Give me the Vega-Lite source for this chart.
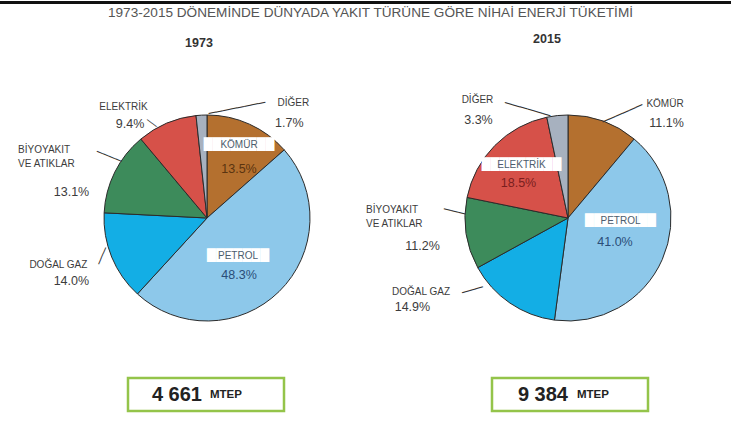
{
  "$schema": "https://vega.github.io/schema/vega-lite/v6.json",
  "padding": {"top": 1, "left": 0, "right": 0, "bottom": 0},
  "background": "white",
  "spacing": 0,
  "config": {"view": {"stroke": null}, "font": "Liberation Sans", "concat": {"spacing": 0}},
  "datasets": {
    "e1973": [
      {"k": "KÖMÜR", "v": 0.135, "o": 1},
      {"k": "PETROL", "v": 0.483, "o": 2},
      {"k": "DOĞAL GAZ", "v": 0.140, "o": 3},
      {"k": "BİYOYAKIT\nVE ATIKLAR", "v": 0.131, "o": 4},
      {"k": "ELEKTRİK", "v": 0.094, "o": 5},
      {"k": "DİĞER", "v": 0.017, "o": 6}
    ],
    "e2015": [
      {"k": "KÖMÜR", "v": 0.111, "o": 1},
      {"k": "PETROL", "v": 0.410, "o": 2},
      {"k": "DOĞAL GAZ", "v": 0.149, "o": 3},
      {"k": "BİYOYAKIT\nVE ATIKLAR", "v": 0.112, "o": 4},
      {"k": "ELEKTRİK", "v": 0.185, "o": 5},
      {"k": "DİĞER", "v": 0.033, "o": 6}
    ]
  },
  "vconcat": [
    {
      "width": 731, "height": 3,
      "data": {"values": [{"a": 0, "b": 1}]},
      "mark": {"type": "rect", "color": "#111111"},
      "encoding": {
        "x": {"field": "a", "type": "quantitative", "scale": {"domain": [0, 1], "nice": false, "zero": false}, "axis": null},
        "x2": {"field": "b"},
        "y": {"field": "a", "type": "quantitative", "scale": {"domain": [0, 1], "nice": false, "zero": false}, "axis": null},
        "y2": {"field": "b"}
      }
    },
    {
      "width": 731, "height": 29,
      "data": {"values": [{"t": "1973-2015 DÖNEMİNDE DÜNYADA YAKIT TÜRÜNE GÖRE NİHAİ ENERJİ TÜKETİMİ"}]},
      "mark": {"type": "text", "fontSize": 13.6, "color": "#555555", "baseline": "middle", "dx": 5, "dy": -5.5},
      "encoding": {"text": {"field": "t"}}
    },
    {
      "hconcat": [
        {
          "width": 414, "height": 316,
          "title": {"text": "1973", "fontSize": 12.5, "fontWeight": "bold", "color": "#333333", "offset": 11, "dx": -8},
          "data": {"name": "e1973"},
          "encoding": {
            "theta": {"field": "v", "type": "quantitative", "stack": true},
            "order": {"field": "o", "type": "quantitative", "sort": "ascending"},
            "detail": {"field": "k"}
          },
          "layer": [
            {
              "mark": {"type": "arc", "radius": 103, "stroke": "#2b2b2b", "strokeWidth": 1},
              "encoding": {"color": {"field": "k", "type": "nominal", "legend": null,
                "scale": {"domain": ["KÖMÜR", "PETROL", "DOĞAL GAZ", "BİYOYAKIT\nVE ATIKLAR", "ELEKTRİK", "DİĞER"],
                          "range": ["#b4702f", "#8dc8ea", "#13aee5", "#3d8b5b", "#d65149", "#a7b1bf"]}}}
            },
            {"mark": {"type": "text", "radius": 125, "dx": 33.1, "dy": 21.7, "angle": -11.3, "fontSize": 12, "font": "DejaVu Sans", "color": "#333333"},
             "encoding": {"text": {"condition": {"test": "datum.o === 6", "value": "────────"}, "value": ""}}},
            {"mark": {"type": "text", "radius": 125, "dx": 7.4, "dy": 20.2, "angle": 37.9, "fontSize": 10, "font": "DejaVu Sans", "color": "#333333"},
             "encoding": {"text": {"condition": {"test": "datum.o === 5", "value": "──"}, "value": ""}}},
            {"mark": {"type": "text", "radius": 125, "dx": 10.8, "dy": -10.2, "angle": 22.6, "fontSize": 11, "font": "DejaVu Sans", "color": "#333333"},
             "encoding": {"text": {"condition": {"test": "datum.o === 4", "value": "────"}, "value": ""}}},
            {"mark": {"type": "text", "radius": 125, "dx": 13.2, "dy": 6.4, "angle": -66.4, "fontSize": 10, "font": "DejaVu Sans", "color": "#333333"},
             "encoding": {"text": {"condition": {"test": "datum.o === 3", "value": "───"}, "value": ""}}},
            {"mark": {"type": "text", "radius": 125, "dx": -33, "dy": 0, "fontSize": 10, "color": "#3c3c3c"},
             "encoding": {"text": {"condition": {"test": "datum.o === 3", "field": "k"}, "value": ""}}},
            {"mark": {"type": "text", "radius": 125, "dx": -20, "dy": 15.5, "fontSize": 12.5, "color": "#3c3c3c"},
             "encoding": {"text": {"condition": {"test": "datum.o === 3", "field": "v", "type": "quantitative", "format": ".1%"}, "value": ""}}},
            {"mark": {"type": "text", "radius": 125, "dx": -77, "dy": -12.8, "fontSize": 10, "color": "#3c3c3c", "align": "left", "lineBreak": "\n", "lineHeight": 14},
             "encoding": {"text": {"condition": {"test": "datum.o === 4", "field": "k"}, "value": ""}}},
            {"mark": {"type": "text", "radius": 125, "dx": -23.6, "dy": 29.2, "fontSize": 12.5, "color": "#3c3c3c"},
             "encoding": {"text": {"condition": {"test": "datum.o === 4", "field": "v", "type": "quantitative", "format": ".1%"}, "value": ""}}},
            {"mark": {"type": "text", "radius": 125, "dx": -34.6, "dy": 4, "fontSize": 10, "color": "#3c3c3c"},
             "encoding": {"text": {"condition": {"test": "datum.o === 5", "field": "k"}, "value": ""}}},
            {"mark": {"type": "text", "radius": 125, "dx": -28, "dy": 21.5, "fontSize": 12.5, "color": "#3c3c3c"},
             "encoding": {"text": {"condition": {"test": "datum.o === 5", "field": "v", "type": "quantitative", "format": ".1%"}, "value": ""}}},
            {"mark": {"type": "text", "radius": 125, "dx": 93, "dy": 10.3, "fontSize": 10, "color": "#3c3c3c"},
             "encoding": {"text": {"condition": {"test": "datum.o === 6", "field": "k"}, "value": ""}}},
            {"mark": {"type": "text", "radius": 125, "dx": 89, "dy": 30, "fontSize": 12.5, "color": "#3c3c3c"},
             "encoding": {"text": {"condition": {"test": "datum.o === 6", "field": "v", "type": "quantitative", "format": ".1%"}, "value": ""}}},
            {"mark": {"type": "text", "radius": 70, "dx": 3.2, "dy": -9.7, "fontSize": 11.5, "font": "DejaVu Sans", "color": "#ffffff"},
             "encoding": {"text": {"condition": {"test": "datum.o === 1", "value": "████████"}, "value": ""}}},
            {"mark": {"type": "text", "radius": 70, "dx": 3.2, "dy": -9.7, "fontSize": 10, "color": "#4d5d6d"},
             "encoding": {"text": {"condition": {"test": "datum.o === 1", "field": "k"}, "value": ""}}},
            {"mark": {"type": "text", "radius": 70, "dx": 3.2, "dy": 14.3, "fontSize": 12.5, "color": "#5a3410"},
             "encoding": {"text": {"condition": {"test": "datum.o === 1", "field": "v", "type": "quantitative", "format": ".1%"}, "value": ""}}},
            {"mark": {"type": "text", "radius": 60, "dx": -11, "dy": -4.8, "fontSize": 11.5, "font": "DejaVu Sans", "color": "#ffffff"},
             "encoding": {"text": {"condition": {"test": "datum.o === 2", "value": "███████"}, "value": ""}}},
            {"mark": {"type": "text", "radius": 60, "dx": -11, "dy": -4.8, "fontSize": 10, "color": "#4d5d6d"},
             "encoding": {"text": {"condition": {"test": "datum.o === 2", "field": "k"}, "value": ""}}},
            {"mark": {"type": "text", "radius": 60, "dx": -10, "dy": 14.2, "fontSize": 12.5, "color": "#2a4d78"},
             "encoding": {"text": {"condition": {"test": "datum.o === 2", "field": "v", "type": "quantitative", "format": ".1%"}, "value": ""}}}
          ]
        },
        {
          "width": 308, "height": 316,
          "title": {"text": "2015", "fontSize": 12.5, "fontWeight": "bold", "color": "#333333", "offset": 11, "dx": -21},
          "data": {"name": "e2015"},
          "encoding": {
            "theta": {"field": "v", "type": "quantitative", "stack": true},
            "order": {"field": "o", "type": "quantitative", "sort": "ascending"},
            "detail": {"field": "k"}
          },
          "layer": [
            {
              "mark": {"type": "arc", "radius": 103, "stroke": "#2b2b2b", "strokeWidth": 1},
              "encoding": {"color": {"field": "k", "type": "nominal", "legend": null,
                "scale": {"domain": ["KÖMÜR", "PETROL", "DOĞAL GAZ", "BİYOYAKIT\nVE ATIKLAR", "ELEKTRİK", "DİĞER"],
                          "range": ["#b4702f", "#8dc8ea", "#13aee5", "#3d8b5b", "#d65149", "#a7b1bf"]}}}
            },
            {"mark": {"type": "text", "radius": 125, "dx": -22.1, "dy": 22.8, "angle": 16.1, "fontSize": 13, "font": "DejaVu Sans", "color": "#333333"},
             "encoding": {"text": {"condition": {"test": "datum.o === 6", "value": "──────"}, "value": ""}}},
            {"mark": {"type": "text", "radius": 125, "dx": 5.6, "dy": 16.6, "angle": -23.6, "fontSize": 12, "font": "DejaVu Sans", "color": "#333333"},
             "encoding": {"text": {"condition": {"test": "datum.o === 1", "value": "──────"}, "value": ""}}},
            {"mark": {"type": "text", "radius": 125, "dx": 4.0, "dy": -27.0, "angle": 13.4, "fontSize": 12, "font": "DejaVu Sans", "color": "#333333"},
             "encoding": {"text": {"condition": {"test": "datum.o === 4", "value": "───"}, "value": ""}}},
            {"mark": {"type": "text", "radius": 125, "dx": -15.4, "dy": -36.8, "angle": -15.9, "fontSize": 12, "font": "DejaVu Sans", "color": "#333333"},
             "encoding": {"text": {"condition": {"test": "datum.o === 3", "value": "───"}, "value": ""}}},
            {"mark": {"type": "text", "radius": 125, "dx": 54.3, "dy": 3.5, "fontSize": 10, "color": "#3c3c3c"},
             "encoding": {"text": {"condition": {"test": "datum.o === 1", "field": "k"}, "value": ""}}},
            {"mark": {"type": "text", "radius": 125, "dx": 55.8, "dy": 22, "fontSize": 12.5, "color": "#3c3c3c"},
             "encoding": {"text": {"condition": {"test": "datum.o === 1", "field": "v", "type": "quantitative", "format": ".1%"}, "value": ""}}},
            {"mark": {"type": "text", "radius": 125, "dx": -76.4, "dy": -28.7, "fontSize": 10, "color": "#3c3c3c"},
             "encoding": {"text": {"condition": {"test": "datum.o === 3", "field": "k"}, "value": ""}}},
            {"mark": {"type": "text", "radius": 125, "dx": -85, "dy": -13.7, "fontSize": 12.5, "color": "#3c3c3c"},
             "encoding": {"text": {"condition": {"test": "datum.o === 3", "field": "v", "type": "quantitative", "format": ".1%"}, "value": ""}}},
            {"mark": {"type": "text", "radius": 125, "dx": -78.4, "dy": -26.8, "fontSize": 10, "color": "#3c3c3c", "align": "left", "lineBreak": "\n", "lineHeight": 14},
             "encoding": {"text": {"condition": {"test": "datum.o === 4", "field": "k"}, "value": ""}}},
            {"mark": {"type": "text", "radius": 125, "dx": -21.9, "dy": 9.7, "fontSize": 12.5, "color": "#3c3c3c"},
             "encoding": {"text": {"condition": {"test": "datum.o === 4", "field": "v", "type": "quantitative", "format": ".1%"}, "value": ""}}},
            {"mark": {"type": "text", "radius": 125, "dx": -77.6, "dy": 6.3, "fontSize": 10, "color": "#3c3c3c"},
             "encoding": {"text": {"condition": {"test": "datum.o === 6", "field": "k"}, "value": ""}}},
            {"mark": {"type": "text", "radius": 125, "dx": -76.6, "dy": 26.3, "fontSize": 12.5, "color": "#3c3c3c"},
             "encoding": {"text": {"condition": {"test": "datum.o === 6", "field": "v", "type": "quantitative", "format": ".1%"}, "value": ""}}},
            {"mark": {"type": "text", "radius": 65, "dx": -0.4, "dy": -7.2, "fontSize": 11.5, "font": "DejaVu Sans", "color": "#ffffff"},
             "encoding": {"text": {"condition": {"test": "datum.o === 5", "value": "█████████"}, "value": ""}}},
            {"mark": {"type": "text", "radius": 65, "dx": -0.4, "dy": -7.2, "fontSize": 10, "color": "#4d5d6d"},
             "encoding": {"text": {"condition": {"test": "datum.o === 5", "field": "k"}, "value": ""}}},
            {"mark": {"type": "text", "radius": 65, "dx": -3.4, "dy": 11.3, "fontSize": 12.5, "color": "#7a1e1e"},
             "encoding": {"text": {"condition": {"test": "datum.o === 5", "field": "v", "type": "quantitative", "format": ".1%"}, "value": ""}}},
            {"mark": {"type": "text", "radius": 52, "dx": 4.9, "dy": -17.5, "fontSize": 11.5, "font": "DejaVu Sans", "color": "#ffffff"},
             "encoding": {"text": {"condition": {"test": "datum.o === 2", "value": "████████"}, "value": ""}}},
            {"mark": {"type": "text", "radius": 52, "dx": 4.9, "dy": -17.5, "fontSize": 10, "color": "#4d5d6d"},
             "encoding": {"text": {"condition": {"test": "datum.o === 2", "field": "k"}, "value": ""}}},
            {"mark": {"type": "text", "radius": 52, "dx": -0.6, "dy": 3.5, "fontSize": 12.5, "color": "#2a4d78"},
             "encoding": {"text": {"condition": {"test": "datum.o === 2", "field": "v", "type": "quantitative", "format": ".1%"}, "value": ""}}}
          ]
        }
      ],
      "spacing": 0,
      "bounds": "flush"
    },
    {
      "hconcat": [
        {"width": 128, "height": 33, "data": {"values": [{}]}, "mark": {"type": "point", "opacity": 0}, "encoding": {}},
        {
          "width": 156, "height": 33,
          "view": {"stroke": "#94c44a", "strokeWidth": 2.5, "fill": "#ffffff"},
          "data": {"values": [{"n": "4 661", "u": "MTEP"}]},
          "layer": [
            {"mark": {"type": "text", "fontSize": 20, "fontWeight": "bold", "color": "#222222", "align": "right", "dx": -4}, "encoding": {"text": {"field": "n"}}},
            {"mark": {"type": "text", "fontSize": 11.5, "fontWeight": "bold", "color": "#222222", "align": "left", "dx": 4}, "encoding": {"text": {"field": "u"}}}
          ]
        },
        {"width": 208, "height": 33, "data": {"values": [{}]}, "mark": {"type": "point", "opacity": 0}, "encoding": {}},
        {
          "width": 156, "height": 33,
          "view": {"stroke": "#94c44a", "strokeWidth": 2.5, "fill": "#ffffff"},
          "data": {"values": [{"n": "9 384", "u": "MTEP"}]},
          "layer": [
            {"mark": {"type": "text", "fontSize": 20, "fontWeight": "bold", "color": "#222222", "align": "right", "dx": -2}, "encoding": {"text": {"field": "n"}}},
            {"mark": {"type": "text", "fontSize": 11.5, "fontWeight": "bold", "color": "#222222", "align": "left", "dx": 7}, "encoding": {"text": {"field": "u"}}}
          ]
        }
      ],
      "spacing": 0,
      "bounds": "flush"
    }
  ]
}
